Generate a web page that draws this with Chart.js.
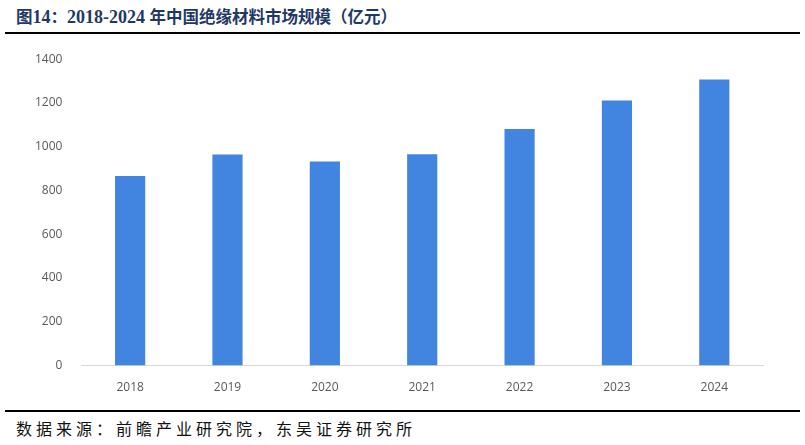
<!DOCTYPE html>
<html>
<head>
<meta charset="utf-8">
<script src="https://cdn.jsdelivr.net/npm/chart.js@4.4.0/dist/chart.umd.min.js"></script>
<style>
  html,body{margin:0;padding:0;background:#fff;width:805px;height:445px;overflow:hidden;}
  #title{position:absolute;left:16px;top:5px;font-family:"Liberation Serif","Noto Sans CJK SC",serif;font-weight:bold;font-size:18px;color:#1f3864;white-space:nowrap;line-height:22px;}
  #title .cjk{font-family:"Noto Sans CJK SC",sans-serif;font-size:16.5px;}
  #rule1{position:absolute;left:5px;top:32px;width:795px;height:2px;background:#000;}
  #rule2{position:absolute;left:5px;top:410px;width:795px;height:2px;background:#000;}
  #source{position:absolute;left:16px;top:417px;font-family:"Noto Sans CJK SC",sans-serif;font-size:16px;letter-spacing:4px;color:#111;white-space:nowrap;line-height:22px;}
  #wrap{position:absolute;left:0;top:33px;width:805px;height:379px;}
</style>
</head>
<body>
<div id="title"><span class="cjk">图</span>14<span class="cjk">：</span>2018-2024 <span class="cjk">年中国绝缘材料市场规模（亿元）</span></div>
<div id="rule1"></div>
<div id="wrap"><canvas id="c"></canvas></div>
<div id="rule2"></div>
<div id="source">数据来源：前瞻产业研究院，东吴证券研究所</div>
<script>
const categories = ['2018','2019','2020','2021','2022','2023','2024'];
const marketSize = [866, 965, 933, 966, 1081, 1211, 1307];
const yTicks = [0,200,400,600,800,1000,1200,1400];

new Chart(document.getElementById('c'), {
  type: 'bar',
  data: {
    labels: categories,
    datasets: [{
      label: '市场规模',
      data: marketSize,
      backgroundColor: '#4285e0',
      borderWidth: 0,
      barPercentage: 0.31,
      categoryPercentage: 1.0
    }]
  },
  options: {
    responsive: true,
    maintainAspectRatio: false,
    animation: false,
    layout: { padding: { left: 16, right: 42, top: 7, bottom: 2 } },
    plugins: { legend: { display: false }, tooltip: { enabled: false } },
    scales: {
      x: {
        grid: { display: false, drawTicks: false },
        border: { display: true, color: '#d9d9d9', width: 1 },
        ticks: { color: '#595959', font: { family: 'Open Sans', size: 12 }, padding: 15 }
      },
      y: {
        min: 0, max: 1400,
        afterBuildTicks: (axis) => { axis.ticks = yTicks.map(v => ({ value: v })); },
        grid: { display: false, drawTicks: false },
        border: { display: false },
        ticks: { color: '#595959', font: { family: 'Open Sans', size: 12 }, padding: 19, callback: (v) => String(v) }
      }
    }
  }
});
</script>
</body>
</html>
